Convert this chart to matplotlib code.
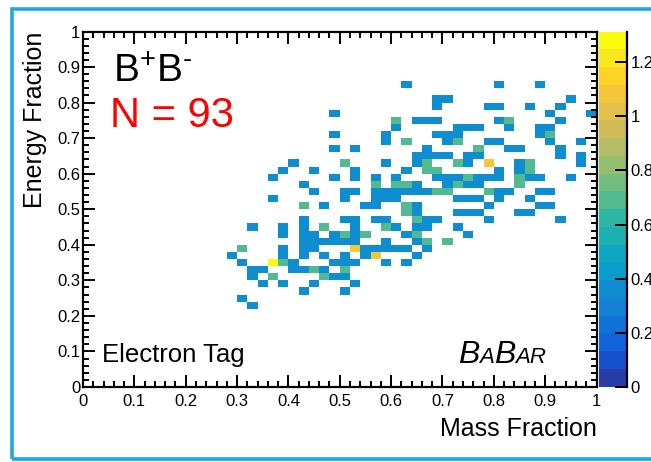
import numpy as np
import matplotlib
matplotlib.use('Agg')
import matplotlib.pyplot as plt
from matplotlib.colors import LinearSegmentedColormap, ListedColormap, BoundaryNorm
from matplotlib.offsetbox import TextArea, HPacker, AnchoredOffsetbox
from matplotlib.patches import Rectangle
from matplotlib.ticker import MultipleLocator, FuncFormatter

plt.rcParams['font.family'] = ['Liberation Sans', 'DejaVu Sans']
plt.rcParams['mathtext.fontset'] = 'custom'
plt.rcParams['mathtext.rm'] = 'Liberation Sans'
plt.rcParams['mathtext.it'] = 'Liberation Sans:italic'

# bin contents (colour classes)
B, G, O, Y = 0.36, 0.69, 1.08, 1.31
z_max = 1.313

mass_fraction = [
    0.63, 0.81, 0.89,
    0.69, 0.71, 0.95,
    0.69, 0.79, 0.81, 0.87, 0.93,
    0.49, 0.91, 0.99,
    0.61, 0.65, 0.67, 0.69, 0.81, 0.83, 0.93,
    0.61, 0.73, 0.75, 0.77, 0.83, 0.89, 0.91,
    0.49, 0.59, 0.69, 0.71, 0.73, 0.89, 0.91,
    0.59, 0.63, 0.71, 0.73, 0.79, 0.81, 0.91, 0.97,
    0.49, 0.53, 0.67, 0.77, 0.83, 0.85, 0.93,
    0.65, 0.67, 0.69, 0.71, 0.75, 0.77, 0.93, 0.97,
    0.41, 0.51, 0.59, 0.65, 0.67, 0.73, 0.75, 0.79, 0.85, 0.87, 0.97,
    0.39, 0.45, 0.53, 0.63, 0.67, 0.69, 0.81, 0.85, 0.87,
    0.37, 0.49, 0.53, 0.57, 0.61, 0.69, 0.71, 0.73, 0.75, 0.77, 0.79, 0.81, 0.85, 0.87, 0.89, 0.95,
    0.43, 0.57, 0.61, 0.63, 0.65, 0.71, 0.73, 0.75, 0.77, 0.85,
    0.45, 0.51, 0.53, 0.57, 0.59, 0.61, 0.63, 0.65, 0.67, 0.69, 0.71, 0.79, 0.81, 0.83, 0.89, 0.91,
    0.37, 0.51, 0.57, 0.59, 0.61, 0.73, 0.75, 0.77, 0.81, 0.87,
    0.43, 0.47, 0.55, 0.57, 0.63, 0.65, 0.79, 0.89, 0.91,
    0.63, 0.65, 0.73, 0.75, 0.77, 0.85, 0.87,
    0.43, 0.51, 0.53, 0.57, 0.59, 0.65, 0.67, 0.69, 0.79, 0.93,
    0.33, 0.39, 0.43, 0.47, 0.53, 0.59, 0.61, 0.65, 0.67, 0.73,
    0.39, 0.43, 0.45, 0.49, 0.51, 0.53, 0.55, 0.63, 0.65, 0.75,
    0.43, 0.45, 0.47, 0.49, 0.51, 0.53, 0.59, 0.65, 0.67, 0.71,
    0.31, 0.39, 0.43, 0.45, 0.53, 0.55, 0.57, 0.59, 0.61, 0.63, 0.67,
    0.29, 0.39, 0.43, 0.47, 0.51, 0.55, 0.57, 0.65,
    0.31, 0.37, 0.39, 0.41, 0.49, 0.51, 0.53, 0.59, 0.63,
    0.33, 0.35, 0.41, 0.43, 0.45, 0.47, 0.51,
    0.33, 0.37, 0.47, 0.49, 0.51,
    0.35, 0.39, 0.45, 0.53,
    0.43, 0.51,
    0.31,
    0.33,
]

energy_fraction = [
    0.85, 0.85, 0.85,
    0.81, 0.81, 0.81,
    0.79, 0.79, 0.79, 0.79, 0.79,
    0.77, 0.77, 0.77,
    0.75, 0.75, 0.75, 0.75, 0.75, 0.75, 0.75,
    0.73, 0.73, 0.73, 0.73, 0.73, 0.73, 0.73,
    0.71, 0.71, 0.71, 0.71, 0.71, 0.71, 0.71,
    0.69, 0.69, 0.69, 0.69, 0.69, 0.69, 0.69, 0.69,
    0.67, 0.67, 0.67, 0.67, 0.67, 0.67, 0.67,
    0.65, 0.65, 0.65, 0.65, 0.65, 0.65, 0.65, 0.65,
    0.63, 0.63, 0.63, 0.63, 0.63, 0.63, 0.63, 0.63, 0.63, 0.63, 0.63,
    0.61, 0.61, 0.61, 0.61, 0.61, 0.61, 0.61, 0.61, 0.61,
    0.59, 0.59, 0.59, 0.59, 0.59, 0.59, 0.59, 0.59, 0.59, 0.59, 0.59, 0.59, 0.59, 0.59, 0.59, 0.59,
    0.57, 0.57, 0.57, 0.57, 0.57, 0.57, 0.57, 0.57, 0.57, 0.57,
    0.55, 0.55, 0.55, 0.55, 0.55, 0.55, 0.55, 0.55, 0.55, 0.55, 0.55, 0.55, 0.55, 0.55, 0.55, 0.55,
    0.53, 0.53, 0.53, 0.53, 0.53, 0.53, 0.53, 0.53, 0.53, 0.53,
    0.51, 0.51, 0.51, 0.51, 0.51, 0.51, 0.51, 0.51, 0.51,
    0.49, 0.49, 0.49, 0.49, 0.49, 0.49, 0.49,
    0.47, 0.47, 0.47, 0.47, 0.47, 0.47, 0.47, 0.47, 0.47, 0.47,
    0.45, 0.45, 0.45, 0.45, 0.45, 0.45, 0.45, 0.45, 0.45, 0.45,
    0.43, 0.43, 0.43, 0.43, 0.43, 0.43, 0.43, 0.43, 0.43, 0.43,
    0.41, 0.41, 0.41, 0.41, 0.41, 0.41, 0.41, 0.41, 0.41, 0.41,
    0.39, 0.39, 0.39, 0.39, 0.39, 0.39, 0.39, 0.39, 0.39, 0.39, 0.39,
    0.37, 0.37, 0.37, 0.37, 0.37, 0.37, 0.37, 0.37,
    0.35, 0.35, 0.35, 0.35, 0.35, 0.35, 0.35, 0.35, 0.35,
    0.33, 0.33, 0.33, 0.33, 0.33, 0.33, 0.33,
    0.31, 0.31, 0.31, 0.31, 0.31,
    0.29, 0.29, 0.29, 0.29,
    0.27, 0.27,
    0.25,
    0.23,
]

bin_content = [
    B, B, B,
    B, B, B,
    B, B, B, B, B,
    B, B, B,
    G, B, B, B, B, G, B,
    B, B, B, B, B, B, B,
    B, B, B, B, B, B, G,
    B, G, B, G, B, B, B, B,
    B, B, B, G, B, B, B,
    B, B, B, B, B, B, B, B,
    B, G, B, B, G, G, B, O, B, G, B,
    B, B, B, B, G, G, B, B, G,
    B, B, B, B, B, B, B, B, G, B, B, B, G, B, B, B,
    B, G, G, G, B, B, G, B, B, G,
    B, B, B, B, B, B, B, B, B, G, G, G, B, B, B, B,
    B, B, B, B, B, B, B, B, B, B,
    G, B, B, B, G, B, B, B, B,
    G, B, B, B, B, B, B,
    B, B, B, B, B, G, B, B, B, B,
    B, B, B, G, B, G, B, B, B, B,
    B, B, B, B, G, B, G, B, G, B,
    B, B, B, B, B, B, B, B, G, G,
    G, B, B, B, O, B, B, B, B, B, B,
    B, B, B, B, B, B, O, B,
    B, Y, G, B, B, B, B, B, B,
    B, B, B, B, G, B, G,
    B, G, G, B, B,
    B, B, B, B,
    B, B,
    B,
    B,
]

z_ticks = [0, 0.2, 0.4, 0.6, 0.8, 1.0, 1.2]

# ROOT kBird palette, 20 contour levels
stops = [0.0, 0.125, 0.25, 0.375, 0.5, 0.625, 0.75, 0.875, 1.0]
red = [0.2082, 0.0592, 0.0780, 0.0232, 0.1802, 0.5301, 0.8186, 0.9956, 0.9764]
green = [0.1664, 0.3599, 0.5041, 0.6419, 0.7178, 0.7492, 0.7328, 0.7862, 0.9832]
blue = [0.5293, 0.8684, 0.8385, 0.7914, 0.6425, 0.4662, 0.3499, 0.1968, 0.0539]
bird = LinearSegmentedColormap.from_list(
    'bird', [(s, (r, g, b)) for s, r, g, b in zip(stops, red, green, blue)], N=255)
nlev = 20
idx = [int((i + 0.99) * 255 / nlev) for i in range(nlev)]
cmap = ListedColormap([bird(min(k, 254) / 254.0) for k in idx])
norm = BoundaryNorm(np.linspace(0, z_max, nlev + 1), nlev)

W, H = 651, 462
fig = plt.figure(figsize=(W / 100, H / 100), dpi=100)
fig.patch.set_facecolor('white')

L, R, T, Bt = 83, 596.5, 31.5, 387
ax = fig.add_axes([L / W, 1 - Bt / H, (R - L) / W, (Bt - T) / H])

Hh, xe, ye = np.histogram2d(mass_fraction, energy_fraction, bins=50,
                            range=[[0, 1], [0, 1]], weights=bin_content)
Hm = np.ma.masked_where(Hh.T <= 0, Hh.T)
mesh = ax.pcolormesh(xe, ye, Hm, cmap=cmap, norm=norm)

ax.set_xlim(0, 1)
ax.set_ylim(0, 1)
fmt = FuncFormatter(lambda v, p: '%g' % round(v, 3))
ax.xaxis.set_major_locator(MultipleLocator(0.1))
ax.xaxis.set_minor_locator(MultipleLocator(0.02))
ax.yaxis.set_major_locator(MultipleLocator(0.1))
ax.yaxis.set_minor_locator(MultipleLocator(0.02))
ax.xaxis.set_major_formatter(fmt)
ax.yaxis.set_major_formatter(fmt)
ax.tick_params(which='both', direction='in', top=True, right=True, width=1.4)
ax.tick_params(which='major', length=8.5, labelsize=12)
ax.tick_params(which='minor', length=4.3)
ax.tick_params(axis='x', pad=5)
ax.tick_params(axis='y', pad=2)
for s in ax.spines.values():
    s.set_linewidth(1.6)

ax.text(1.0, -0.138, 'Mass Fraction', transform=ax.transAxes, ha='right',
        va='baseline', fontsize=18)
ax.text(-0.0804, 1.0, 'Energy Fraction', transform=ax.transAxes, rotation=90,
        rotation_mode='anchor', ha='right', va='baseline', fontsize=18)

ax.text(0.058, 0.858, r'B$^{+}$B$^{\text{-}}$', transform=ax.transAxes, fontsize=28,
        va='baseline', ha='left')
ax.text(0.0526, 0.731, 'N = 93', transform=ax.transAxes, fontsize=30,
        color='#ff0000', va='baseline', ha='left')
ax.text(0.037, 0.070, 'Electron Tag', transform=ax.transAxes, fontsize=18.5,
        va='baseline', ha='left')

parts = [('B', 23), ('A', 16), ('B', 23), ('AR', 16)]
boxes = [TextArea(t, textprops=dict(fontsize=fs, fontstyle='italic')) for t, fs in parts]
pack = HPacker(children=boxes, align='baseline', pad=0, sep=0)
ab = AnchoredOffsetbox(loc='lower right', child=pack, pad=0, borderpad=0, frameon=False,
                       bbox_to_anchor=(0.902, 0.048), bbox_transform=ax.transAxes)
ax.add_artist(ab)

cax = fig.add_axes([598.5 / W, 1 - Bt / H, 28 / W, (Bt - T) / H])
cb = fig.colorbar(mesh, cax=cax, ticks=z_ticks)
cb.outline.set_visible(False)
cb.ax.yaxis.set_major_formatter(fmt)
cb.ax.tick_params(direction='in', length=8.5, width=1.4, labelsize=12, pad=3)
cb.ax.minorticks_off()
cax.plot([1, 1], [0, 1], transform=cax.transAxes, color='black', lw=1.6, clip_on=False)

fig.add_artist(Rectangle((11.5 / W, 3 / H), 1.2, (459 - 9) / H, transform=fig.transFigure,
                         fill=False, edgecolor='#1ea8e6', lw=2.6))

fig.savefig('out.png', dpi=100)
